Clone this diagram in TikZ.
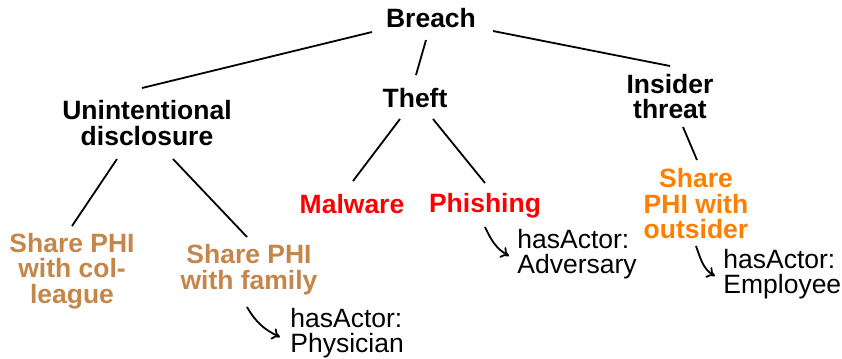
\documentclass[tikz,border=0pt]{standalone}
\usepackage{fontspec}
\setmainfont{Liberation Sans}
\usetikzlibrary{arrows.meta}
\definecolor{tan}{RGB}{196,134,74}
\definecolor{orng}{RGB}{255,128,0}
\definecolor{rd}{RGB}{255,0,0}
\begin{document}
\begin{tikzpicture}[x=0.5pt,y=-0.5pt,
  every node/.style={inner sep=0pt,font=\fontsize{13.25pt}{12.75pt}\selectfont},
  cat/.style={font=\fontsize{13.25pt}{12.75pt}\selectfont\bfseries,align=center},
  actor/.style={align=left,anchor=west},
  edge/.style={draw=black,line width=0.9pt},
  rel/.style={draw=black,line width=0.9pt,-{To[length=4pt,width=6pt]}}]
\useasboundingbox (0,0) rectangle (842,359);
\node[cat] (breach) at (431,18) {Breach};
\node[cat] (unint) at (147,123) {Unintentional\\disclosure};
\node[cat] (theft) at (415,98) {Theft};
\node[cat] (insider) at (670,96.5) {Insider\\threat};
\node[cat,text=rd] (malware) at (352,204) {Malware};
\node[cat,text=rd] (phishing) at (485,206) {Phishing};
\node[cat,text=orng] (outsider) at (696,204) {Share\\PHI with\\outsider};
\node[cat,text=tan] (colleague) at (72,271) {Share PHI\\with col-\\league};
\node[cat,text=tan] (family) at (249,269.5) {Share PHI\\with family};
\node[actor] (physician) at (290,333) {hasActor:\\Physician};
\node[actor] (adversary) at (517,254) {hasActor:\\Adversary};
\node[actor] (employee) at (723,274) {hasActor:\\Employee};

\draw[edge] ([shift={(-59,14)}]breach.center) -- ([shift={(-5,-35)}]unint.center);
\draw[edge] ([shift={(-5,22)}]breach.center) -- ([shift={(1,-23)}]theft.center);
\draw[edge] ([shift={(62,13)}]breach.center) -- ([shift={(0,-30.5)}]insider.center);
\draw[edge] ([shift={(13,30.5)}]insider.center) -- ([shift={(1,-44)}]outsider.center);
\draw[edge] ([shift={(-30,36)}]unint.center) -- ([shift={(0,-45)}]colleague.center);
\draw[edge] ([shift={(26,36)}]unint.center) -- ([shift={(-2,-32.5)}]family.center);
\draw[edge] ([shift={(-15,21)}]theft.center) -- ([shift={(1,-23)}]malware.center);
\draw[edge] ([shift={(18,21)}]theft.center) -- ([shift={(0,-23)}]phishing.center);

\draw[rel] ([shift={(-2,37.5)}]family.center) to[out=-60,in=155] ([shift={(-10,4)}]physician.west);
\draw[rel] ([shift={(0,21)}]phishing.center) to[out=-65,in=150] ([shift={(-8,2)}]adversary.west);
\draw[rel] ([shift={(0,42)}]outsider.center) to[out=-70,in=150] ([shift={(-8,2)}]employee.west);
\end{tikzpicture}
\end{document}
